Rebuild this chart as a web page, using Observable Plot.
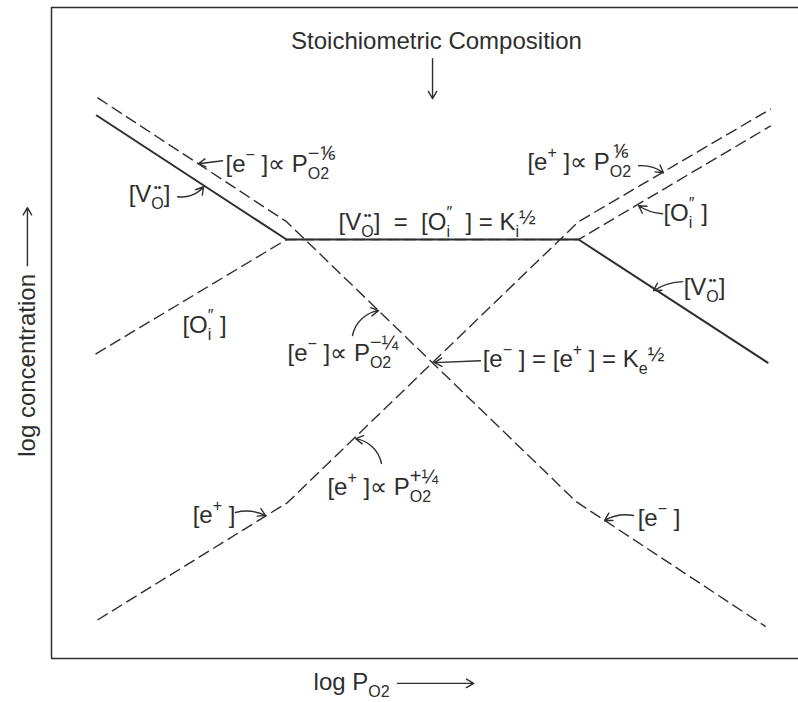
<!DOCTYPE html>
<html><head><meta charset="utf-8">
<script src="https://cdn.jsdelivr.net/npm/d3@7"></script>
<script src="https://cdn.jsdelivr.net/npm/@observablehq/plot@0.6"></script>
<style>body{margin:0;background:#fff}</style>
</head><body><div id="chart"></div>
<script>
// ---- defect concentration lines (log P_O2 vs log concentration, arbitrary units) ----
const vacancyLogP = [-13.8, -6.0, 6.0, 13.77];
const vacancyLogC = [2.63, 1.31, 1.31, 0.0];
const interstitialLogP = [-13.85, -6.0, 6.0, 13.9];
const interstitialLogC = [0.09, 1.31, 1.31, 2.52];
const electronLogP = [-13.77, -6.0, 5.9, 13.69];
const electronLogC = [2.82, 1.50, -1.48, -2.81];
const holeLogP = [-13.77, -5.96, 6.0, 13.9];
const holeLogC = [-2.74, -1.49, 1.50, 2.70];

// ---- annotation labels ( _{} subscript, ^{} superscript stacked over a subscript, ~{} plain superscript ) ----
const labelTexts = [
  "[e^{−} ]∝ P_{O2}^{−⅙}",
  "[V_{O}^{••}]",
  "[V_{O}^{••}]\u00a0 =\u00a0 [O_{i}^{″}\u00a0 ] = K_{i}~{½}",
  "[O_{i}^{″} ]",
  "[e^{−} ]∝ P_{O2}^{−¼}",
  "[e^{−} ] = [e^{+} ] = K_{e}~{½}",
  "[e^{+} ]∝ P_{O2}^{⅙}",
  "[O_{i}^{″} ]",
  "[V_{O}^{••}]",
  "[e^{+} ]∝ P_{O2}^{+¼}",
  "[e^{+} ]",
  "[e^{−} ]",
  "log P_{O2}"
];
const labelLogP = [-8.51, -12.49, -3.86, -10.28, -5.96, 2.06, 3.90, 9.49, 10.32, -4.32, -9.86, 8.43, -4.89];
const labelLogC = [2.106, 1.787, 1.489, 0.394, 0.096, 0.032, 2.128, 1.585, 0.798, -1.33, -1.628, -1.66, -3.40];

const titleText = "Stoichiometric Composition";
const yLabelText = "log concentration";

// ---- annotation arrows (tail -> head) ----
const arrowFromLogP = [-8.63, -10.48, -3.29, 1.97, 8.47, 9.45, 10.28, -2.10, -8.10, 8.26, 0.0, -16.65, -1.44];
const arrowFromLogC = [2.149, 1.766, 0.287, 0.02, 2.096, 1.585, 0.862, -1.074, -1.596, -1.628, 3.234, 1.03, -3.415];
const arrowToLogP   = [-9.62, -9.41, -2.22, 0.08, 9.49, 8.47, 9.08, -3.16, -6.86, 7.07, 0.0, -16.65, 1.69];
const arrowToLogC   = [2.117, 1.872, 0.553, 0.0, 2.021, 1.67, 0.766, -0.809, -1.628, -1.68, 2.809, 1.65, -3.415];
const arrowBend     = [0, -30, 35, 0, 20, 15, -15, -35, 20, -20, 0, 0, 0];

const xDomain = [-15.66, 15.04];
const yDomain = [-3.15, 3.78];
const ink = "#2e2e2e";
const font = "'Liberation Sans', Arial, Helvetica, sans-serif";
const baseSize = 24;

const toRows = (xs, ys) => xs.map((x, i) => ({logP: x, logC: ys[i]}));
const vacancy = toRows(vacancyLogP, vacancyLogC);
const interstitial = toRows(interstitialLogP, interstitialLogC);
const electron = toRows(electronLogP, electronLogC);
const hole = toRows(holeLogP, holeLogC);
const labels = labelTexts.map((t, i) => ({text: t, logP: labelLogP[i], logC: labelLogC[i]}));
const arrows = arrowFromLogP.map((x, i) => ({x1: x, y1: arrowFromLogC[i], x2: arrowToLogP[i], y2: arrowToLogC[i], bend: arrowBend[i]}));

const dashed = {x: "logP", y: "logC", stroke: ink, strokeWidth: 1.4, strokeDasharray: "12,5", strokeLinecap: "butt"};

const plot = Plot.plot({
  width: 798, height: 702,
  marginLeft: 51, marginRight: 0, marginTop: 7, marginBottom: 44,
  x: {domain: xDomain, axis: null},
  y: {domain: yDomain, axis: null},
  style: {fontFamily: font, background: "white", color: ink},
  marks: [
    Plot.ruleY([yDomain[1], yDomain[0]], {stroke: ink, strokeWidth: 1.5}),
    Plot.ruleX([xDomain[0]], {stroke: ink, strokeWidth: 1.5}),
    Plot.line(interstitial, dashed),
    Plot.line(electron, dashed),
    Plot.line(hole, dashed),
    Plot.line(vacancy, {x: "logP", y: "logC", stroke: ink, strokeWidth: 2}),
    ...arrows.map(a => Plot.arrow([a], {x1: "x1", y1: "y1", x2: "x2", y2: "y2", bend: a.bend, stroke: ink, strokeWidth: 1.4, headLength: 9})),
    Plot.text(labels, {x: "logP", y: "logC", text: "text", textAnchor: "start", fontSize: baseSize, fill: ink}),
    Plot.text([titleText], {x: 0.16, y: 3.42, text: d => d, textAnchor: "middle", fontSize: baseSize, fill: ink}),
    Plot.text([yLabelText], {x: -16.65, y: -0.03, text: d => d, rotate: -90, fontSize: baseSize, fill: ink})
  ]
});
document.getElementById("chart").appendChild(plot);

// ---- rich text: sub/superscripts as tspans ----
function parse(s) {
  const out = []; let buf = ""; let i = 0;
  while (i < s.length) {
    const c = s[i];
    if ((c === "_" || c === "^" || c === "~") && s[i + 1] === "{") {
      if (buf) { out.push({t: "n", s: buf}); buf = ""; }
      const j = s.indexOf("}", i + 2);
      out.push({t: c === "_" ? "sub" : "sup", plain: c === "~", s: s.slice(i + 2, j)});
      i = j + 1;
    } else { buf += c; i++; }
  }
  if (buf) out.push({t: "n", s: buf});
  return out;
}
const ns = "http://www.w3.org/2000/svg";
const isFraction = s => /[½⅙¼]/.test(s);
plot.querySelectorAll("text").forEach(t => {
  const s = t.textContent;
  if (!/[_^~]\{/.test(s)) return;
  const segs = parse(s);
  t.textContent = "";
  let level = 0;
  segs.forEach((g, k) => {
    const ts = document.createElementNS(ns, "tspan");
    ts.textContent = g.s;
    let target = 0, size = null;
    if (g.t === "sub") { target = 7; size = 16; }
    else if (g.t === "sup") {
      if (g.s === "••") { target = -11; size = 11; }
      else if (isFraction(g.s)) { target = g.plain ? -6 : -12; size = 20; }
      else { target = -12; size = 16; }
    }
    if (size) ts.setAttribute("font-size", size);
    if (target - level) ts.setAttribute("dy", target - level);
    level = target;
    t.appendChild(ts);
    g.el = ts;
  });
  for (let k = 0; k + 1 < segs.length; k++) {
    if (segs[k].t === "sub" && segs[k + 1].t === "sup" && !segs[k + 1].plain) {
      const w1 = segs[k].el.getComputedTextLength();
      const w2 = segs[k + 1].el.getComputedTextLength();
      if (w2 <= w1) {
        segs[k + 1].el.setAttribute("dx", -(w1 + w2) / 2);
        if (segs[k + 2]) segs[k + 2].el.setAttribute("dx", (w1 - w2) / 2);
      } else {
        segs[k + 1].el.setAttribute("dx", -w1);
      }
    }
  }
});
</script>
</body></html>
